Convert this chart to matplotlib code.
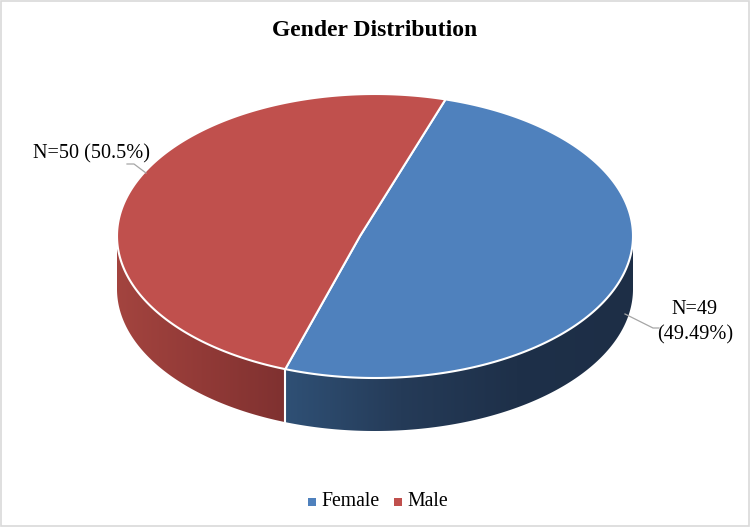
import numpy as np
import matplotlib.pyplot as plt
from matplotlib.patches import Polygon, Rectangle
from matplotlib.colors import LinearSegmentedColormap

plt.rcParams['font.family'] = ['Liberation Serif', 'DejaVu Serif']

# Data
categories = ['Female', 'Male']
counts = [49, 50]
pct_labels = ['49.49%', '50.5%']
top_colors = ['#4F81BD', '#C0504D']
# side gradient stops, left -> right
side_colors = [['#2F5075', '#253B58', '#1E3049', '#1D2E46'],
               ['#A3443F', '#923A37', '#7F3130']]

# Geometry of the tilted pie (pixel coordinates)
CX, CY = 375, 236
RX, RY = 258, 142
DEPTH = 53
APEX_OFF = -0.058  # apex shift (fraction of radius) to mimic perspective
START = 19.0       # first slice angle, degrees clockwise from top


def hit(theta_deg):
    """screen parametric angle of a ray from the apex at true angle theta"""
    th = np.radians(theta_deg)
    dx, dy = np.sin(th), np.cos(th)
    od = APEX_OFF * dx
    t = -od + np.sqrt(od ** 2 - (APEX_OFF ** 2 - 1))
    px, py = APEX_OFF + t * dx, t * dy
    phi = np.degrees(np.arctan2(px, py))
    return phi + 360 * np.round((theta_deg - phi) / 360)


def pt(phi_deg):
    p = np.radians(phi_deg)
    return CX + RX * np.sin(p), CY - RY * np.cos(p)


fig = plt.figure(figsize=(7.5, 5.27), dpi=100)
ax = fig.add_axes([0, 0, 1, 1])
ax.set_xlim(0, 750)
ax.set_ylim(527, 0)
ax.axis('off')

fracs = np.array(counts) / np.sum(counts)
true_bounds = START + 360 * np.concatenate([[0], np.cumsum(fracs)])
bounds = np.array([hit(b) for b in true_bounds])
apex = (CX + APEX_OFF * RX, CY)

# Side walls (front half only: 90..270 degrees)
grad = np.linspace(0, 1, 256).reshape(1, -1)
for i in range(len(counts)):
    a0, a1 = bounds[i], bounds[i + 1]
    for lo, hi in [(a0, a1), (a0 - 360, a1 - 360)]:
        lo2, hi2 = max(lo, 90), min(hi, 270)
        if hi2 <= lo2:
            continue
        phis = np.linspace(lo2, hi2, 300)
        xs, ys = pt(phis)
        verts = list(zip(xs, ys)) + list(zip(xs[::-1], ys[::-1] + DEPTH))
        poly = Polygon(verts, closed=True, facecolor='none', edgecolor='none')
        ax.add_patch(poly)
        cmap = LinearSegmentedColormap.from_list(f'side{i}', side_colors[i])
        x0, x1 = xs.min(), xs.max()
        y0, y1 = ys.min(), ys.max() + DEPTH
        im = ax.imshow(grad, cmap=cmap, aspect='auto', extent=(x0, x1, y1, y0),
                       zorder=1, interpolation='bilinear')
        im.set_clip_path(poly)

ax.set_xlim(0, 750)
ax.set_ylim(527, 0)

# white vertical seam on the side between slices
for b in bounds[1:-1]:
    bb = b % 360
    if 90 < bb < 270:
        x, y = pt(bb)
        ax.plot([x, x], [y, y + DEPTH + 1], color='white', lw=1.5, zorder=2)

# Top faces
for i in range(len(counts)):
    phis = np.linspace(bounds[i], bounds[i + 1], 300)
    xs, ys = pt(phis)
    verts = [apex] + list(zip(xs, ys))
    ax.add_patch(Polygon(verts, closed=True, facecolor=top_colors[i],
                         edgecolor='white', linewidth=1.5, zorder=3))

# Title
ax.text(375, 30, 'Gender Distribution', ha='center', va='center',
        fontsize=17, fontweight='bold', color='black')

# Data labels with leader lines
ax.text(33, 154, f'N={counts[1]} ({pct_labels[1]})', ha='left', va='center',
        fontsize=14.6, color='black')
ax.plot([127, 134, 146], [164, 164, 173], color='#A6A6A6', lw=0.9, zorder=4)

ax.text(695, 310, f'N={counts[0]}', ha='center', va='center', fontsize=14.6, color='black')
ax.text(695, 335, f'({pct_labels[0]})', ha='center', va='center', fontsize=14.6, color='black')
ax.plot([625, 653, 659], [314, 328, 328], color='#A6A6A6', lw=0.9, zorder=4)

# Legend
leg_x = [312, 398]
for x, name, c in zip(leg_x, categories, top_colors):
    ax.add_patch(Rectangle((x - 4, 498), 8, 8, facecolor=c, edgecolor='none'))
    ax.text(x + 9, 502, name, ha='left', va='center', fontsize=14.2, color='black')

# chart border
ax.add_patch(Rectangle((1, 1), 748, 525, fill=False, edgecolor='#D9D9D9', lw=1.2))

fig.savefig('out.png', dpi=100)
